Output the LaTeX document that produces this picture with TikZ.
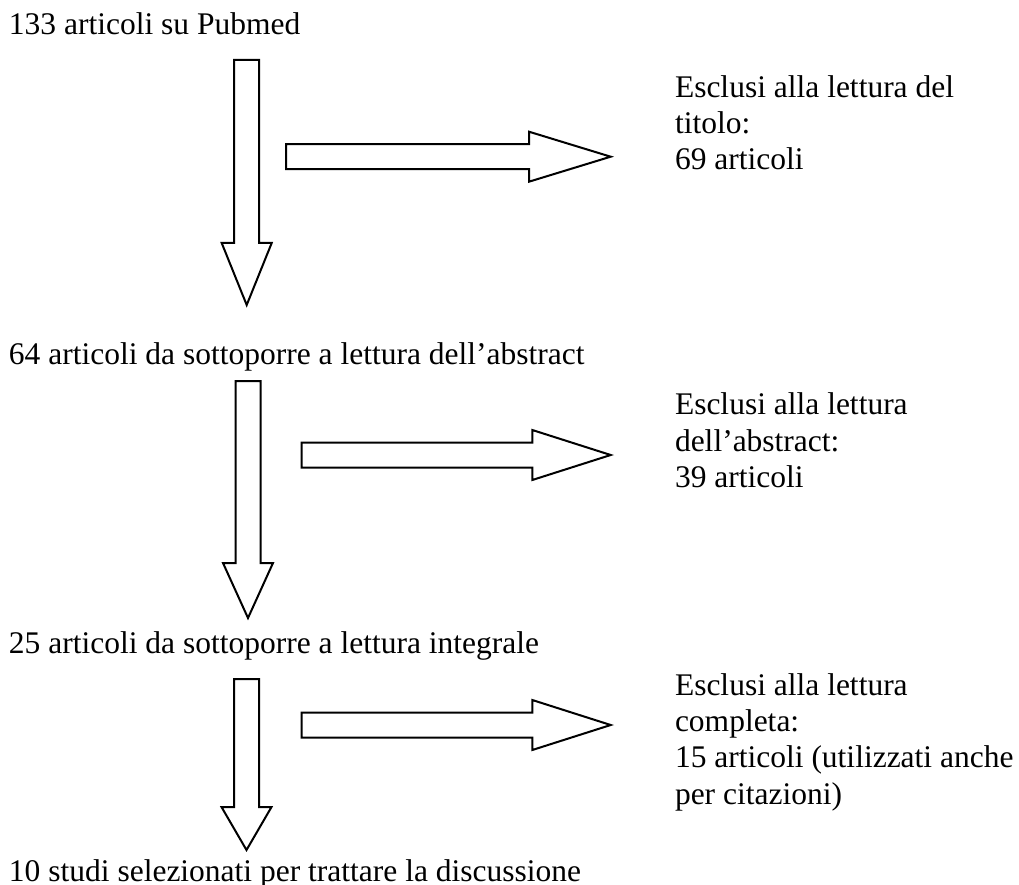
\documentclass[tikz,border=0pt]{standalone}
\usepackage{fontspec}
\setmainfont{Liberation Serif}

\begin{document}
\begin{tikzpicture}[x = 1pt, y = -1pt, line width = 2pt, line join = miter]

	% Definition

	\def\W{12.5}	% Half width of arrow shaft
	\def\H{25}		% Half width of arrow head

	\tikzset{
		steptext/.style = {anchor = base west, inner sep = 0pt, font = \fontsize{31.5}{36.3}\selectfont},
		excltext/.style = {steptext, align = left}
	}

	\useasboundingbox (0, 0) rectangle (1019, 885);

	% Steps of the selection

	\node [steptext] (pubmed) at (8, 35) {133 articoli su Pubmed};
	\node [steptext] (abstract) at (8, 364) {64 articoli da sottoporre a lettura dell’abstract};
	\node [steptext] (integral) at (8, 653) {25 articoli da sottoporre a lettura integrale};
	\node [steptext] (selected) at (8, 881.5) {10 studi selezionati per trattare la discussione};

	% Excluded articles (base = last line)

	\node [excltext] (excltitle) at (674, 170) {Esclusi alla lettura del\\titolo:\\69 articoli};
	\node [excltext] (exclabstract) at (674, 487.5) {Esclusi alla lettura\\dell’abstract:\\39 articoli};
	\node [excltext] (exclfull) at (674, 804) {Esclusi alla lettura\\completa:\\15 articoli (utilizzati anche\\per citazioni)};

	% Down block arrows

	\foreach \X/\T/\B/\P in {246.7/60/243/305, 248/381/563/618, 246.5/679/807/850}
	{
		\draw (\X - \W, \T) -- (\X + \W, \T) -- (\X + \W, \B) -- (\X + \H, \B) -- (\X, \P)
			-- (\X - \H, \B) -- (\X - \W, \B) -- cycle;
	}

	% Right block arrows

	\foreach \Y/\L/\B in {156.7/286/529, 455/301.7/532.3, 725/301.7/532.3}
	{
		\draw (\L, \Y - \W) -- (\B, \Y - \W) -- (\B, \Y - \H) -- (610.7, \Y) -- (\B, \Y + \H)
			-- (\B, \Y + \W) -- (\L, \Y + \W) -- cycle;
	}

\end{tikzpicture}
\end{document}
